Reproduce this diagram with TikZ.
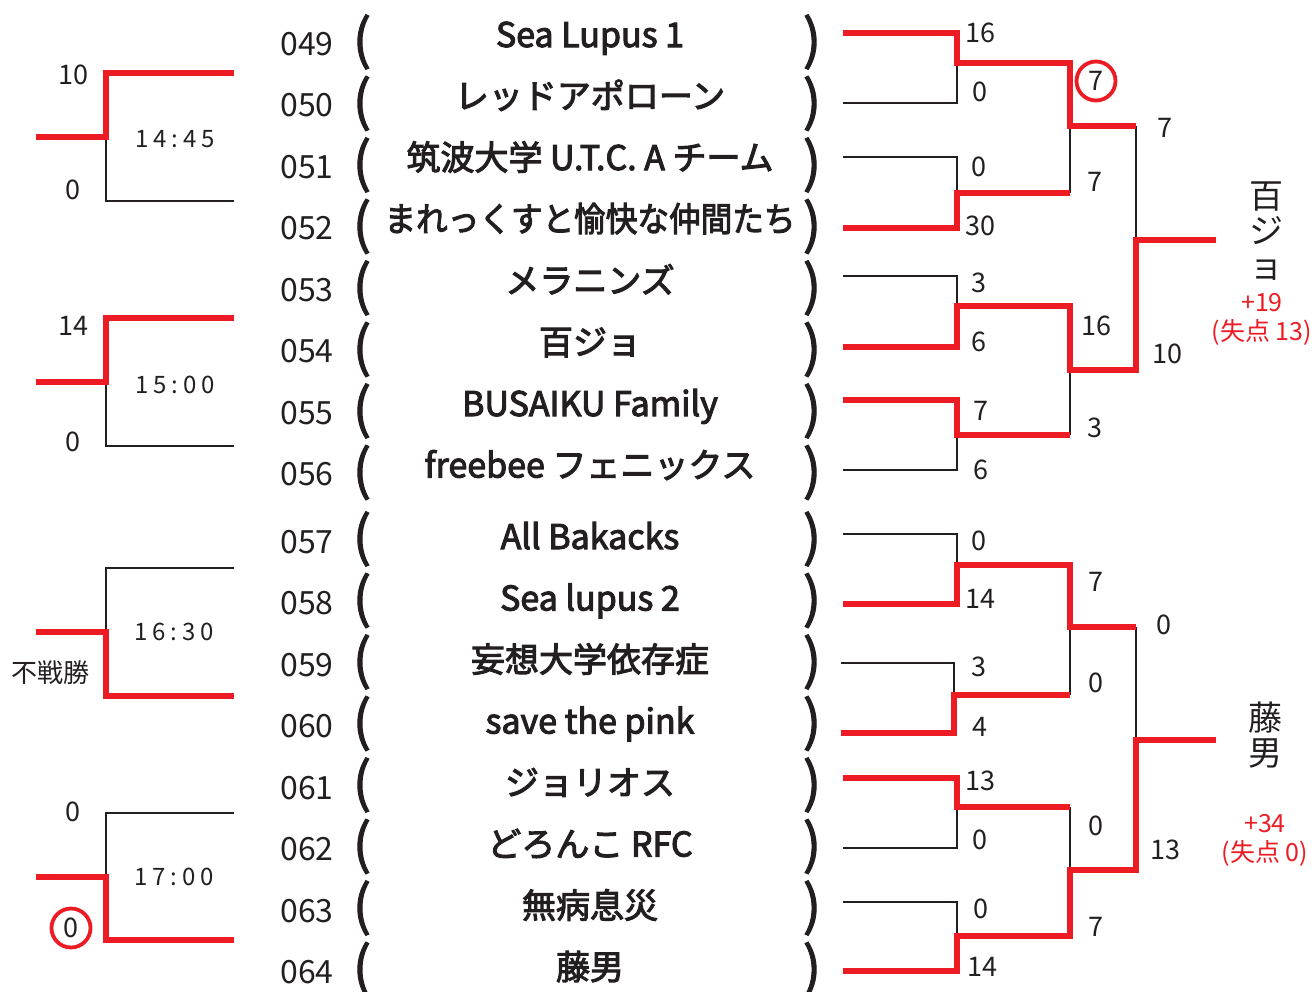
\documentclass[tikz,border=0pt]{standalone}
\usepackage{fontspec}
\setmainfont{Noto Sans CJK JP}
\newfontfamily\timefont[LetterSpace=20]{Noto Sans CJK JP}
\newfontfamily\teamfont[FakeBold=3]{Noto Sans CJK JP}
\newfontfamily\parenfont[FakeBold=2]{Noto Sans CJK JP}
\definecolor{bred}{HTML}{ED1C24}
\definecolor{bblk}{HTML}{231F20}
\begin{document}
\begin{tikzpicture}[x=1pt,y=-1pt,
  win/.style={draw=bred,line width=6.5pt,line join=miter},
  lose/.style={draw=bblk,line width=2pt},
  rownum/.style={font=\fontsize{32}{32}\selectfont,text=bblk,inner sep=0,anchor=base},
  team/.style={font=\teamfont\fontsize{34}{34}\selectfont,text=bblk,inner sep=0,anchor=base},
  paren/.style={font=\parenfont\fontsize{54}{54}\selectfont,text=bblk,inner sep=0},
  score/.style={font=\fontsize{27}{27}\selectfont,text=bblk,inner sep=0},
  timelbl/.style={font=\timefont\fontsize{24}{24}\selectfont,text=bblk,inner sep=0},
  ring/.style={circle,draw=bred,line width=3.8pt,minimum size=39pt,inner sep=0},
  final/.style={font=\fontsize{34}{35}\selectfont,text=bblk,inner sep=0,align=center},
  margin/.style={font=\fontsize{25}{29}\selectfont,text=bred,inner sep=0,align=center}]
\useasboundingbox (0,0) rectangle (1312,991);

% ---------- row numbers and parentheses ----------
\foreach \i/\rn in {1/049,2/050,3/051,4/052,5/053,6/054,7/055,8/056,9/057,10/058,11/059,12/060,13/061,14/062,15/063,16/064}{
  \pgfmathsetmacro\nb{\i<9 ? 55+61.5*(\i-1) : 553+61.5*(\i-9)}
  \pgfmathsetmacro\pb{\i<9 ? 42+61.5*(\i-1) : 539+61.5*(\i-9)}
  \node[rownum] (n\i) at (307,\nb) {\rn};
  \node[paren] (lp\i) at (362,\pb) {(};
  \node[paren] (rp\i) at (812,\pb) {)};
}

% ---------- team names ----------
\foreach \i/\tn in {1/{Sea Lupus 1},2/{レッドアポローン},3/{筑波大学 U.T.C. A チーム},
  4/{\scalebox{0.93}[1]{まれっくすと愉快な仲間たち}},5/{メラニンズ},6/{百ジョ},
  7/{BUSAIKU Family},8/{freebee フェニックス},9/{All Bakacks},10/{Sea lupus 2},
  11/{妄想大学依存症},12/{save the pink},13/{ジョリオス},14/{どろんこ RFC},
  15/{無病息災},16/{藤男}}{
  \pgfmathsetmacro\bl{\i<9 ? 47+61.5*(\i-1) : 549+61.5*(\i-9)}
  \node[team] (t\i) at (590,\bl) {\tn};
}

% ---------- right bracket coordinates ----------
\coordinate (e1) at (843,33);   \coordinate (e2) at (843,103);
\coordinate (e3) at (843,157);  \coordinate (e4) at (843,228);
\coordinate (e5) at (843,276);  \coordinate (e6) at (843,347);
\coordinate (e7) at (843,400);  \coordinate (e8) at (843,470);
\coordinate (e9) at (843,534);  \coordinate (e10) at (843,604);
\coordinate (e11) at (841,663); \coordinate (e12) at (841,733);
\coordinate (e13) at (843,778); \coordinate (e14) at (843,848);
\coordinate (e15) at (843,902); \coordinate (e16) at (843,971);
\coordinate (j1) at (957,63);   \coordinate (j2) at (957,193);
\coordinate (j3) at (957,306);  \coordinate (j4) at (957,435);
\coordinate (j5) at (957,565);  \coordinate (j6) at (954,695);
\coordinate (j7) at (957,807);  \coordinate (j8) at (957,936);
\coordinate (k1) at (1070,126); \coordinate (k2) at (1070,370);
\coordinate (k3) at (1070,627); \coordinate (k4) at (1070,870);
\coordinate (m1) at (1136,240); \coordinate (m2) at (1136,740);
\coordinate (f1) at (1216,240); \coordinate (f2) at (1216,740);

% losers (black) first
\draw[lose] (e2) -| (j1);
\draw[lose] (e3) -| (j2);
\draw[lose] (j2 -| k1) -- (k1);
\draw[lose] (e5) -| (j3);
\draw[lose] (e8) -| (j4);
\draw[lose] (j4 -| k2) -- (k2);
\draw[lose] (k1 -| m1) -- (m1);
\draw[lose] (e9) -| (j5);
\draw[lose] (e11) -| (j6);
\draw[lose] (j6 -| k3) -- (k3);
\draw[lose] (e14) -| (j7);
\draw[lose] (j7 -| k4) -- (k4);
\draw[lose] (e15) -| (j8);
\draw[lose] (k3 -| m2) -- (m2);

% winners (red)
\draw[win] (e1) -| (j1) -| (k1) -- (k1 -| m1);
\draw[win] (e4) -| (j2) -- (j2 -| k1);
\draw[win] (e6) -| (j3) -| (k2) -- (k2 -| m1) |- (f1);
\draw[win] (e7) -| (j4) -- (j4 -| k2);
\draw[win] (e10) -| (j5) -| (k3) -- (k3 -| m2);
\draw[win] (e12) -| (j6) -- (j6 -| k3);
\draw[win] (e13) -| (j7) -- (j7 -| k4);
\draw[win] (e16) -| (j8) -| (k4) -- (k4 -| m2) |- (f2);

% ---------- right scores ----------
\node[score] (s1) at (980,33) {16};
\node[score] (s2) at (980,92) {0};
\node[score] (s3) at (979,167) {0};
\node[score] (s4) at (980,226) {30};
\node[score] (s5) at (979,283) {3};
\node[score] (s6) at (979,342) {6};
\node[score] (s7) at (981,411) {7};
\node[score] (s8) at (981,470) {6};
\node[score] (s9) at (979,541) {0};
\node[score] (s10) at (980,599) {14};
\node[score] (s11) at (979,667) {3};
\node[score] (s12) at (980,727) {4};
\node[score] (s13) at (980,781) {13};
\node[score] (s14) at (980,840) {0};
\node[score] (s15) at (981,909) {0};
\node[score] (s16) at (982,967) {14};
\node[score,ring] (q1) at (1096,81) {7};
\node[score] (q2) at (1095,182) {7};
\node[score] (q3) at (1096,326) {16};
\node[score] (q4) at (1095,428) {3};
\node[score] (q5) at (1096,582) {7};
\node[score] (q6) at (1096,683) {0};
\node[score] (q7) at (1096,826) {0};
\node[score] (q8) at (1096,927) {7};
\node[score] (h1) at (1165,128) {7};
\node[score] (h2) at (1167,354) {10};
\node[score] (h3) at (1164,625) {0};
\node[score] (h4) at (1165,850) {13};

% ---------- finalists ----------
\node[final] (w1) at (1266,231) {百\\ジ\\ョ};
\node[margin] (d1) at (1262,319) {+19\\(失点 13)};
\node[final] (w2) at (1265,735) {藤\\男};
\node[margin] (d2) at (1265,840) {+34\\(失点 0)};

% ---------- left brackets ----------
\coordinate (la1) at (234,73);  \coordinate (lb1) at (234,201);
\coordinate (lj1) at (106,137); \coordinate (lo1) at (36,137);
\coordinate (la2) at (234,318); \coordinate (lb2) at (234,446);
\coordinate (lj2) at (106,382); \coordinate (lo2) at (36,382);
\coordinate (la3) at (234,568); \coordinate (lb3) at (234,696);
\coordinate (lj3) at (106,632); \coordinate (lo3) at (36,632);
\coordinate (la4) at (234,813); \coordinate (lb4) at (234,940);
\coordinate (lj4) at (106,877); \coordinate (lo4) at (36,877);

\draw[lose] (lb1) -| (lj1);
\draw[lose] (lb2) -| (lj2);
\draw[lose] (la3) -| (lj3);
\draw[lose] (la4) -| (lj4);
\draw[win] (la1) -| (lj1) -- (lo1);
\draw[win] (la2) -| (lj2) -- (lo2);
\draw[win] (lb3) -| (lj3) -- (lo3);
\draw[win] (lb4) -| (lj4) -- (lo4);

\node[score] (ls1) at (73,75) {10};
\node[score] (ls2) at (73,190) {0};
\node[score] (ls3) at (73,326) {14};
\node[score] (ls4) at (73,442) {0};
\node[score] (ls5) at (73,812) {0};
\node[score,ring] (ls6) at (71,928) {0};
\node[font=\fontsize{26}{26}\selectfont,text=bblk,inner sep=0] (fs) at (50,673) {不戦勝};

\node[timelbl] (tm1) at (175,139) {14:45};
\node[timelbl] (tm2) at (175,385) {15:00};
\node[timelbl] (tm3) at (174,632) {16:30};
\node[timelbl] (tm4) at (174,877) {17:00};
\end{tikzpicture}
\end{document}
